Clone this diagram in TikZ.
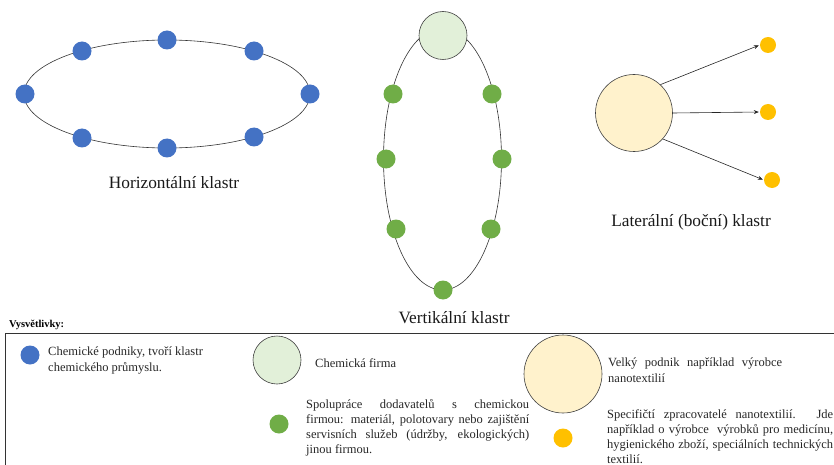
\documentclass[tikz,border=0pt]{standalone}
\usepackage{fontspec}
\setmainfont{Liberation Serif}
\newfontfamily\tnr{Liberation Serif}
\usetikzlibrary{shapes.geometric,arrows.meta}
\definecolor{cblue}{HTML}{4472C4}
\definecolor{cgreen}{HTML}{70AD47}
\definecolor{clgreen}{HTML}{E2F0D9}
\definecolor{cbeige}{HTML}{FFF2CC}
\definecolor{corange}{HTML}{FFC000}
\begin{document}
\begin{tikzpicture}[x=1pt,y=-1pt,
  ring/.style={draw=black!80, line width=0.6pt, ellipse, inner sep=0pt},
  bdot/.style={circle, fill=cblue, inner sep=0pt, minimum size=19pt},
  gdot/.style={circle, fill=cgreen, inner sep=0pt, minimum size=19pt},
  odot/.style={circle, fill=corange, inner sep=0pt, minimum size=16pt},
  firm/.style={circle, draw=black!75, line width=0.6pt, fill=clgreen, inner sep=0pt, minimum size=48pt},
  big/.style={circle, draw=black!75, line width=0.6pt, fill=cbeige, inner sep=0pt, minimum size=77pt},
  title/.style={font=\tnr\fontsize{17.3}{20}\selectfont, text=black!90, inner sep=0pt},
  txt/.style={font=\tnr\fontsize{12.5}{15.2}\selectfont, text=black!85, inner sep=0pt, align=left},
  jtxt/.style={txt, align=justify},
  arr/.style={-{Stealth[length=5pt,width=4pt]}, line width=0.6pt, draw=black!85, shorten >=1pt}
]
\useasboundingbox (0,0) rectangle (834,465);

% Horizontal cluster
\node[ring, minimum width=286pt, minimum height=108pt] (hring) at (167,94) {};
\node[bdot] (h1) at (25,94) {};
\node[bdot] (h2) at (82,51) {};
\node[bdot] (h3) at (167,40) {};
\node[bdot] (h4) at (254,51) {};
\node[bdot] (h5) at (310,94) {};
\node[bdot] (h6) at (82,138) {};
\node[bdot] (h7) at (167,148) {};
\node[bdot] (h8) at (254,137) {};
\node[title] (htitle) at (174,183) {Horizontální klastr};

% Vertical cluster
\node[ring, minimum width=118pt, minimum height=262pt] (vring) at (442.5,159) {};
\node[firm] (vf) at (443,35.5) {};
\node[gdot] (v1) at (393,94) {};
\node[gdot] (v2) at (492,94) {};
\node[gdot] (v3) at (386,159) {};
\node[gdot] (v4) at (502,159) {};
\node[gdot] (v5) at (396,229) {};
\node[gdot] (v6) at (491,229) {};
\node[gdot] (v7) at (443,290) {};
\node[title] (vtitle) at (454,318) {Vertikální klastr};

% Lateral cluster
\node[big] (L) at (634,113) {};
\node[odot] (o1) at (768,45) {};
\node[odot] (o2) at (768,112) {};
\node[odot] (o3) at (772,180) {};
\draw[arr] (L.47) -- (o1.west);
\draw[arr] (L.0) -- (o2.west);
\draw[arr] (L.-42) -- (o3.west);
\node[title] (ltitle) at (691,222) {Laterální (boční) klastr};

% Legend
\node[font=\tnr\bfseries\fontsize{10.5}{12}\selectfont, inner sep=0pt, anchor=base west] (leg) at (9,327) {Vysvětlivky:};
\coordinate (bx1) at (840,333);
\coordinate (bx2) at (5,470);
\draw[line width=0.8pt, black!80] (bx1) -| (bx2);

\node[bdot] (k1) at (30,355) {};
\node[txt, anchor=north west] (k1t) at (48,347) {Chemické podniky, tvoří klastr\\chemického průmyslu.};

\node[firm] (k2) at (277,360) {};
\node[txt, anchor=west] (k2t) at (315,363) {Chemická firma};

\node[gdot] (k3) at (279,424) {};
\node[jtxt, text width=223pt, anchor=north west] (k3t) at (306,399) {Spolupráce dodavatelů s chemickou\linebreak firmou: materiál, polotovary nebo zajištění\linebreak servisních služeb (údržby, ekologických)\linebreak jinou firmou.};

\node[big, minimum size=78pt] (k4) at (563,374) {};
\node[jtxt, text width=174pt, anchor=north west] (k4t) at (608,358) {Velký podnik například výrobce\linebreak nanotextilií};

\node[odot, minimum size=19pt] (k5) at (563,438) {};
\node[jtxt, text width=226pt, anchor=north west] (k5t) at (607,409) {Specifičtí zpracovatelé nanotextilií. Jde\linebreak například o výrobce\ \ výrobků pro medicínu,\linebreak hygienického zboží, speciálních technických\linebreak textilií.};
\end{tikzpicture}
\end{document}
